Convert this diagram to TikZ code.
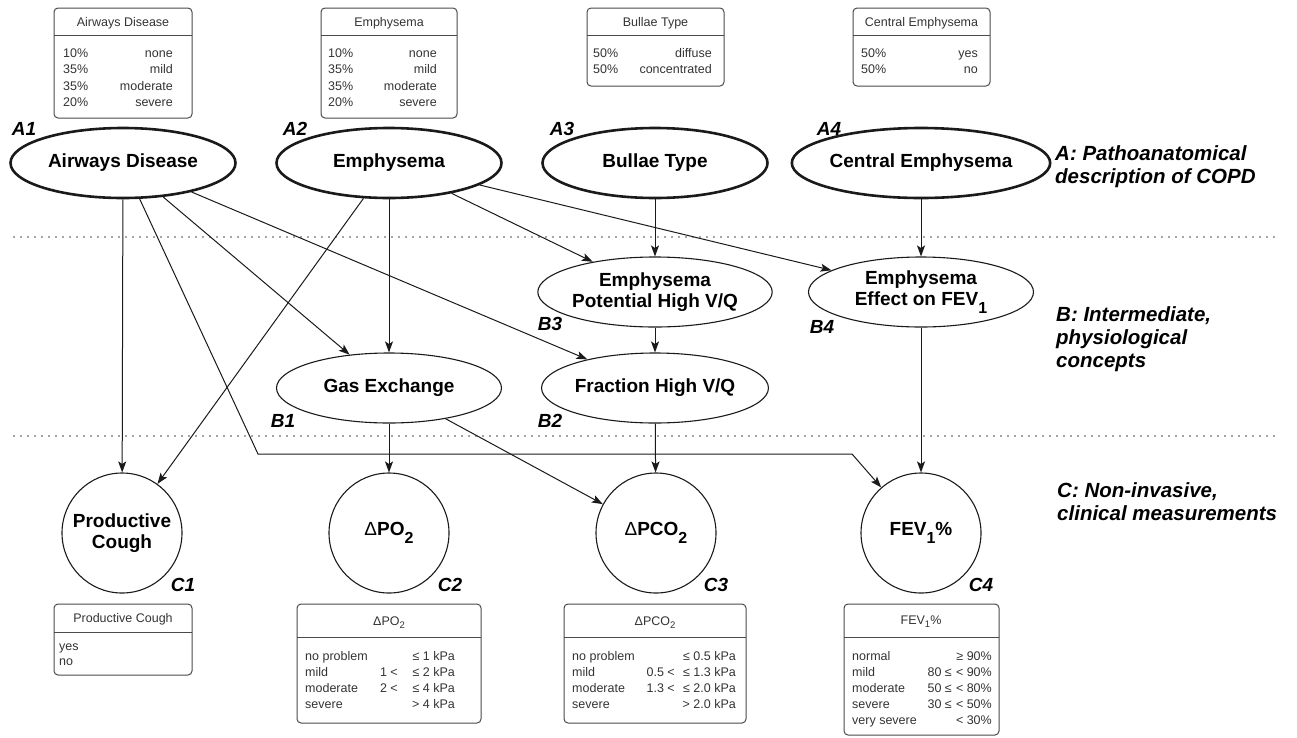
\documentclass[tikz,border=0pt]{standalone}
\usepackage{fontspec}
\setmainfont{Liberation Sans}
\usetikzlibrary{shapes.geometric,arrows.meta}
\definecolor{linec}{HTML}{1A1A1A}
\definecolor{tblc}{HTML}{4A4A4A}
\definecolor{cellc}{HTML}{333333}
\newcommand\bigfont{\fontsize{19}{21}\selectfont\bfseries}
\newcommand\tagfont{\fontsize{19}{21}\selectfont\bfseries\itshape}
\newcommand\cellfont{\fontsize{12.5}{15}\selectfont}
\newcommand\layerfont{\fontsize{20.5}{23}\selectfont\bfseries\itshape}
\newcommand\lowsub[1]{\raisebox{-0.4em}{\fontsize{16}{16}\selectfont #1}}
\newcommand\smallsub[1]{\raisebox{-0.3em}{\fontsize{9.5}{9.5}\selectfont #1}}
\newcommand\Dl{{\mdseries Δ}}
\newcommand\tabrow[8]{%
  \node[cell,anchor=base west] (#1l) at (#3,#2) {#4};
  \node[cell,anchor=base east] (#1b) at (#5,#2) {#6};
  \node[cell,anchor=base east] (#1v) at (#7,#2) {#8};}
\begin{document}
\begin{tikzpicture}[x=1pt,y=-1pt,
  topnode/.style={ellipse, draw=linec, line width=2.6pt, minimum width=225pt, minimum height=70pt, inner sep=0pt, font=\bigfont, align=center},
  midnode/.style={ellipse, draw=linec, line width=1.1pt, minimum width=225pt, minimum height=70pt, inner sep=0pt, font=\bigfont, align=center},
  measnode/.style={circle, draw=linec, line width=1.1pt, minimum size=120pt, inner sep=0pt, font=\bigfont, align=center},
  tag/.style={font=\tagfont, inner sep=0pt},
  conn/.style={draw=linec, line width=1pt, -{Stealth[length=11pt,width=8pt,inset=2.5pt]}},
  tbl/.style={draw=tblc, line width=1pt, rounded corners=4pt},
  cell/.style={font=\cellfont, text=cellc, inner sep=0pt},
  head/.style={font=\cellfont, text=cellc, inner sep=0pt, anchor=base},
  layer/.style={font=\layerfont, inner sep=0pt, anchor=base west},
  sep/.style={draw=linec!80, line width=1.8pt, dash pattern=on 0pt off 7pt, line cap=round}
]
\useasboundingbox (0,0) rectangle (1297,737);

% layer separators
\coordinate (s1a) at (14,237); \coordinate (s1b) at (1278,237);
\coordinate (s2a) at (14,436); \coordinate (s2b) at (1278,436);
\draw[sep] (s1a) -- (s1b);
\draw[sep] (s2a) -- (s2b);

% ---------- top tables ----------
\draw[tbl] (54,8) rectangle (192,118);  \draw[tbl] (54,35) -- (192,35);
\node[head] (tAh) at (123,26.5) {Airways Disease};
\draw[tbl] (321,8) rectangle (457,118); \draw[tbl] (321,35) -- (457,35);
\node[head] (tEh) at (389,26.5) {Emphysema};
\draw[tbl] (587,8) rectangle (724,86);  \draw[tbl] (587,35) -- (724,35);
\node[head] (tBh) at (655.5,26.5) {Bullae Type};
\draw[tbl] (853,8) rectangle (990,86);  \draw[tbl] (853,35) -- (990,35);
\node[head] (tCh) at (921.5,26.5) {Central Emphysema};

\tabrow{ta1}{57.5}{63}{10\%}{63}{}{173}{none}
\tabrow{ta2}{73.8}{63}{35\%}{63}{}{173}{mild}
\tabrow{ta3}{90.1}{63}{35\%}{63}{}{173}{moderate}
\tabrow{ta4}{106.4}{63}{20\%}{63}{}{173}{severe}
\tabrow{te1}{57.5}{328}{10\%}{328}{}{437}{none}
\tabrow{te2}{73.8}{328}{35\%}{328}{}{437}{mild}
\tabrow{te3}{90.1}{328}{35\%}{328}{}{437}{moderate}
\tabrow{te4}{106.4}{328}{20\%}{328}{}{437}{severe}
\tabrow{tb1}{57.5}{593}{50\%}{593}{}{712}{diffuse}
\tabrow{tb2}{73.8}{593}{50\%}{593}{}{712}{concentrated}
\tabrow{tc1}{57.5}{861}{50\%}{861}{}{978}{yes}
\tabrow{tc2}{73.8}{861}{50\%}{861}{}{978}{no}

% ---------- A nodes ----------
\node[topnode] (A1) at (123,163) {Airways Disease};
\node[topnode] (A2) at (389,163) {Emphysema};
\node[topnode] (A3) at (655,163) {Bullae Type};
\node[topnode, minimum width=216pt] (A4) at (921,163) {Central Emphysema};
\node[tag] (lA1) at (24,129) {A1};
\node[tag] (lA2) at (295,129) {A2};
\node[tag] (lA3) at (562,129) {A3};
\node[tag] (lA4) at (829,129) {A4};

% ---------- B nodes ----------
\node[midnode] (B1) at (389,388) {Gas Exchange};
\node[midnode] (B2) at (655,388) {Fraction High V/Q};
\node[midnode] (B3) at (655,292) {Emphysema\\Potential High V/Q};
\node[midnode] (B4) at (921,292) {Emphysema\\Effect on FEV\lowsub{1}};
\node[tag] (lB1) at (283,421) {B1};
\node[tag] (lB2) at (550,421) {B2};
\node[tag] (lB3) at (550,324) {B3};
\node[tag] (lB4) at (822,327) {B4};

% ---------- C nodes ----------
\node[measnode] (C1) at (122,533) {Productive\\Cough};
\node[measnode] (C2) at (389,533) {\Dl PO\lowsub{2}};
\node[measnode] (C3) at (656,533) {\Dl PCO\lowsub{2}};
\node[measnode] (C4) at (921,533) {FEV\lowsub{1}\%};
\node[tag] (lC1) at (183,585) {C1};
\node[tag] (lC2) at (450,585) {C2};
\node[tag] (lC3) at (716,585) {C3};
\node[tag] (lC4) at (981,585) {C4};

% ---------- layer captions ----------
\node[layer] (LA1) at (1055,160) {A: Pathoanatomical};
\node[layer] (LA2) at (1055,183) {description of COPD};
\node[layer] (LB1) at (1056,321) {B: Intermediate,};
\node[layer] (LB2) at (1056,344) {physiological};
\node[layer] (LB3) at (1056,367) {concepts};
\node[layer] (LC1) at (1057,497) {C: Non-invasive,};
\node[layer] (LC2) at (1057,520) {clinical measurements};

% ---------- bottom tables ----------
\draw[tbl] (54,604) rectangle (192,675); \draw[tbl] (54,632) -- (192,632);
\node[head] (tPh) at (123,622.5) {Productive Cough};
\node[cell,anchor=base west] (tPy) at (59,650.5) {yes};
\node[cell,anchor=base west] (tPn) at (59,665.5) {no};

\draw[tbl] (297,604) rectangle (481,723); \draw[tbl] (297,637) -- (481,637);
\node[head] (tOh) at (389,625) {ΔPO\smallsub{2}};
\tabrow{to1}{660.5}{305}{no problem}{398}{}{455}{≤ 1 kPa}
\tabrow{to2}{676.5}{305}{mild}{398}{1 <}{455}{≤ 2 kPa}
\tabrow{to3}{692.5}{305}{moderate}{398}{2 <}{455}{≤ 4 kPa}
\tabrow{to4}{708.5}{305}{severe}{398}{}{455}{> 4 kPa}

\draw[tbl] (564,604) rectangle (746,723); \draw[tbl] (564,637) -- (746,637);
\node[head] (tQh) at (655,625) {ΔPCO\smallsub{2}};
\tabrow{tq1}{660.5}{572}{no problem}{675}{}{736}{≤ 0.5 kPa}
\tabrow{tq2}{676.5}{572}{mild}{675}{0.5 <}{736}{≤ 1.3 kPa}
\tabrow{tq3}{692.5}{572}{moderate}{675}{1.3 <}{736}{≤ 2.0 kPa}
\tabrow{tq4}{708.5}{572}{severe}{675}{}{736}{> 2.0 kPa}

\draw[tbl] (844,604) rectangle (999,735); \draw[tbl] (844,637) -- (999,637);
\node[head] (tFh) at (921,624) {FEV\smallsub{1}\%};
\tabrow{tf1}{660.5}{852}{normal}{952}{}{992}{≥ 90\%}
\tabrow{tf2}{676.5}{852}{mild}{952}{80 ≤}{992}{< 90\%}
\tabrow{tf3}{692.5}{852}{moderate}{952}{50 ≤}{992}{< 80\%}
\tabrow{tf4}{708.5}{852}{severe}{952}{30 ≤}{992}{< 50\%}
\tabrow{tf5}{724.5}{852}{very severe}{952}{}{992}{< 30\%}

% ---------- connectors ----------
\coordinate (k1) at (258,454);
\coordinate (k2) at (852,454);
\draw[conn] (A1) -- (C1);
\draw[conn] (A1) -- (B1);
\draw[conn] (A1) -- (B2);
\draw[conn] (A1) -- (k1) -- (k2) -- (C4);
\draw[conn] (A2) -- (C1);
\draw[conn] (A2) -- (B1);
\draw[conn] (A2) -- (B3);
\draw[conn] (A2) -- (B4);
\draw[conn] (A3) -- (B3);
\draw[conn] (A4) -- (B4);
\draw[conn] (B3) -- (B2);
\draw[conn] (B1) -- (C2);
\draw[conn] (B1) -- (C3);
\draw[conn] (B2) -- (C3);
\draw[conn] (B4) -- (C4);
\end{tikzpicture}
\end{document}
